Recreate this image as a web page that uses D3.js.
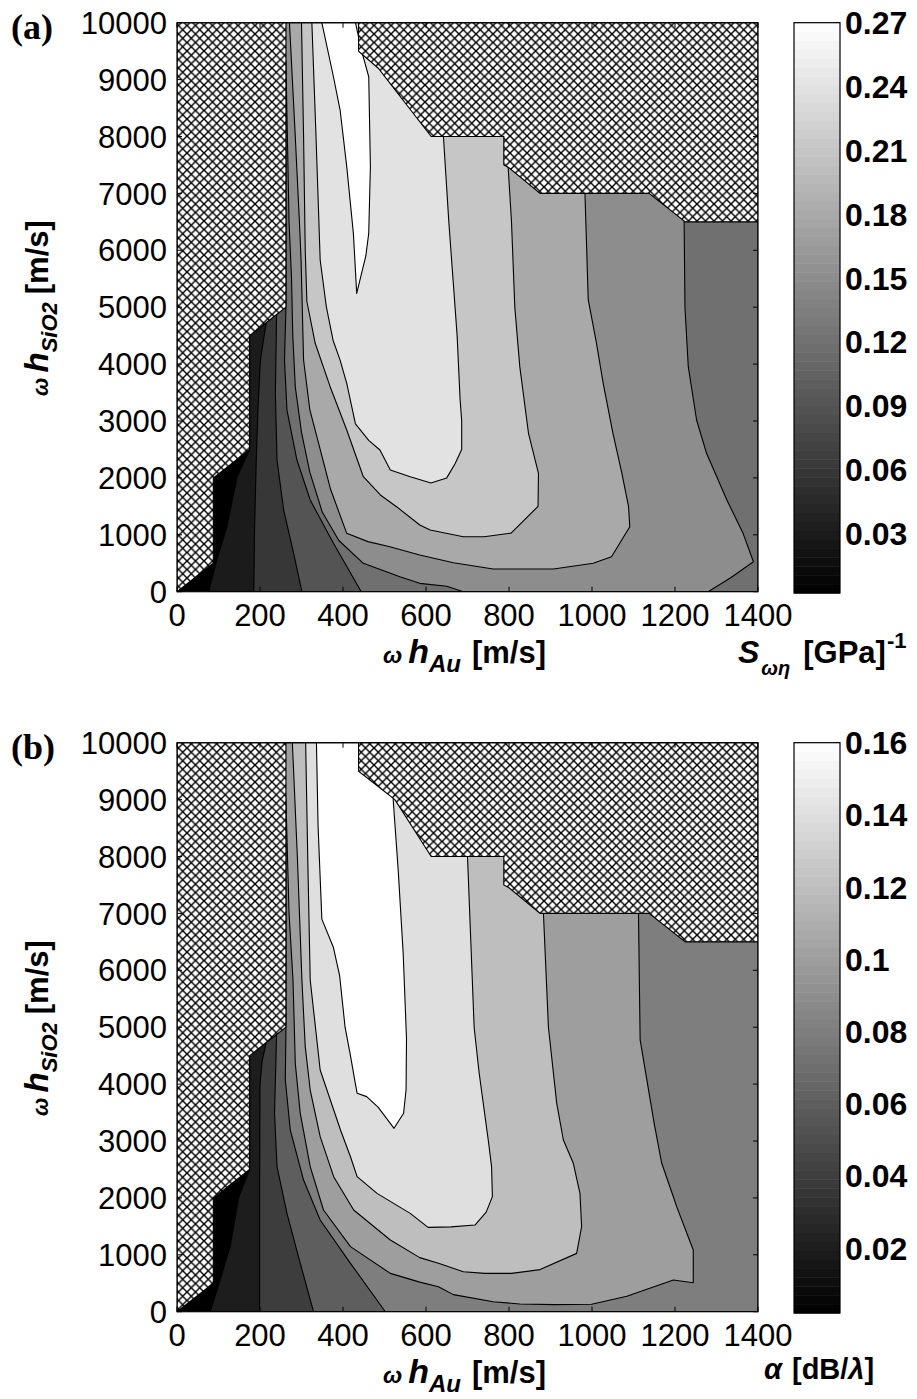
<!DOCTYPE html>
<html><head><meta charset="utf-8">
<script src="https://cdn.jsdelivr.net/npm/d3@7/dist/d3.min.js"></script>
<style>body{margin:0;background:#fff}svg{display:block}</style>
</head><body><svg id="chart" width="917" height="1399"></svg>
<script>
// ---------- axes / colorbar data ----------
const xTicks = [0,200,400,600,800,1000,1200,1400];
const yTicks = [0,1000,2000,3000,4000,5000,6000,7000,8000,9000,10000];
const cbDomainA = [0.002, 0.27];
const cbTicksA = [0.03,0.06,0.09,0.12,0.15,0.18,0.21,0.24,0.27];
const cbLabelsA = ["0.03","0.06","0.09","0.12","0.15","0.18","0.21","0.24","0.27"];
const cbDomainB = [0.002, 0.16];
const cbTicksB = [0.02,0.04,0.06,0.08,0.10,0.12,0.14,0.16];
const cbLabelsB = ["0.02","0.04","0.06","0.08","0.1","0.12","0.14","0.16"];

// ---------- panel (a) contour boundaries [hAu, hSiO2]; region of higher value lies right/inside ----------
const levelsA = [0.03,0.06,0.09,0.12,0.15,0.18,0.21,0.24,0.27];
const a003 = [[175,10000],[175,2500],[145,2020],[120,1140],[96,557],[76,0]];
const a006 = [[215,10000],[215,4730],[201,4072],[195,3193],[191,2314],[187,1142],[185,0]];
const a009 = [[240,10000],[240,4870],[237,3487],[241,2314],[257,1436],[281,674],[301,0]];
const a012 = [[262.5,10000],[262.5,5000],[259,4072],[265,3193],[289,2314],[321,1611],[377,850],[444,0]];
const a015 = [[250,10000],[262.5,9300],[266,8000],[270,6500],[276,5500],[279,4500],[285,3600],[300,2800],[320,2100],[350,1400],[390,900],[449,499],[537,264],[585,147],[650,95],[690,0],[1280,0],[1335,250],[1389,527],[1364,1026],[1325,1611],[1276,2432],[1252,3018],[1232,3955],[1224,5000],[1222,6500],[1225,10000]];
const a018 = [[271,10000],[285,8000],[295,6500],[299,5830],[305,4072],[320,3200],[345,2500],[370,1800],[409,1026],[460,880],[513,791],[585,645],[666,510],[762,399],[907,399],[1003,499],[1047,615],[1091,1142],[1088,1500],[1072,2080],[1050,2800],[1027,3662],[1010,4400],[991,5128],[983,7000],[983,10000]];
const a021 = [[300,10000],[305,8000],[309,6000],[313,5100],[333,4366],[369,3603],[409,2842],[449,2021],[490,1700],[529,1494],[585,1172],[610,1084],[690,967],[740,967],[805,1030],[870,1500],[871,2080],[847,2784],[826,3955],[814,5000],[806,6500],[798,7460],[798,10000]];
const a024 = [[325,10000],[335,8000],[345,5830],[360,5000],[376,4420],[393,4070],[409,3660],[430,2950],[462,2660],[489,2490],[514,2140],[562,2020],[612,1910],[650,2000],[670,2250],[686,2500],[686,3000],[682,3400],[675,4500],[665,5500],[655,6500],[642,8000],[642,10000]];
const a027 = [[349,10000],[377,9050],[393,8465],[409,7470],[425,6300],[433,5242],[455,5900],[462,6300],[466,7470],[462,9050],[445,9500],[430,10000]];
const maskLeftA = [[0,0],[87.5,500],[87.5,2000],[175,2500],[175,4500],[262.5,5000],[262.5,10000],[0,10000]];
const maskRightA = [[437.5,10000],[437.5,9500],[485,9200],[612.5,8000],[787.5,8000],[787.5,7500],[800,7450],[875,7000],[1137.5,7000],[1225,6500],[1400,6500],[1400,10000]];

// ---------- panel (b) ----------
const levelsB = [0.02,0.04,0.06,0.08,0.10,0.12,0.14,0.16];
const b002 = [[175,10000],[175,2500],[149,2021],[128,1143],[104,557],[80,0]];
const b004 = [[215,10000],[215,4730],[205,4400],[200,4000],[199,2000],[199,0]];
const b006 = [[240,10000],[240,4870],[235,3487],[241,2549],[265,1729],[297,850],[329,0]];
const b008 = [[262.5,10000],[262.5,5000],[261,4072],[273,3193],[305,2314],[345,1611],[418,850],[502,0]];
const b010 = [[250,10000],[262.5,9000],[270,7000],[279.5,5830],[285,4365],[297,3486],[321,2549],[353,1787],[418,1143],[514,674],[585,520],[630,440],[666,300],[762,176],[826,135],[907,125],[999,130],[1084,270],[1196,557],[1244,510],[1244,1084],[1204,1846],[1196,2021],[1168,2608],[1150,3300],[1116,4776],[1112,7000],[1115,10000]];
const b012 = [[278,10000],[290,8000],[301,5830],[309,4658],[321,3896],[345,3076],[377.5,2373],[425.7,1787],[514,1260],[585,950],[630,850],[690,703],[742,674],[806,674],[875,740],[963,1025],[975,1494],[971,2080],[955,2608],[931,3018],[915,3662],[895,5000],[883,7000],[883,10000]];
const b014 = [[310,10000],[315,8000],[321,5830],[345,4248],[394,3193],[418,2724],[434,2373],[482,2080],[562,1728],[605,1482],[660,1490],[718,1523],[745,1750],[760,2022],[758,2550],[750,3018],[738,3662],[728,4200],[716,5000],[708,6500],[700,8000],[700,10000]];
const b016 = [[336,10000],[340,8524],[349,6900],[377,6400],[392,5900],[405,5000],[417,4540],[430,4000],[434,3840],[457,3780],[485,3590],[523,3223],[546,3487],[552,3900],[553,4800],[545,6300],[533,7760],[521,8990],[525,10000]];
const maskLeftB = [[0,0],[87.5,500],[87.5,2000],[175,2500],[175,4500],[262.5,5000],[262.5,10000],[0,10000]];
const maskRightB = [[437.5,10000],[437.5,9500],[525,9000],[612.5,8000],[787.5,8000],[787.5,7500],[800,7450],[875,7000],[1137.5,7000],[1225,6500],[1400,6500],[1400,10000]];

// ---------- drawing ----------
const svg = d3.select("#chart");
const SANS = "'Liberation Sans', Arial, sans-serif";
const defs = svg.append("defs");
const P = 8.5;
const pat = defs.append("pattern").attr("id","hatch").attr("patternUnits","userSpaceOnUse")
  .attr("width",P).attr("height",P);
pat.append("rect").attr("width",P).attr("height",P).attr("fill","#fff");
pat.append("path").attr("d",`M-2,-2L${P+2},${P+2}M${P+2},-2L-2,${P+2}`)
  .attr("stroke","#000").attr("stroke-width",1.45);

const X_DOM = [0,1400], Y_DOM = [0,10000];

function drawPanel(off, cfg) {
  const top = 22.7 + off, bottom = 591.7 + off, left = 177, right = 758;
  const x = d3.scaleLinear().domain(X_DOM).range([left, right]);
  const y = d3.scaleLinear().domain(Y_DOM).range([bottom, top]);
  const col = d3.scaleLinear().domain(cfg.cbDomain).range(["#000","#fff"]).clamp(true);
  const g = svg.append("g");
  const clipId = "clip" + cfg.id;
  defs.append("clipPath").attr("id", clipId).append("rect")
    .attr("x", left).attr("y", top).attr("width", right-left).attr("height", bottom-top);
  const pg = g.append("g").attr("clip-path", `url(#${clipId})`);
  const line = d3.line().x(d => x(d[0])).y(d => y(d[1]));
  // base (lowest) region
  pg.append("rect").attr("x", left).attr("y", top).attr("width", right-left).attr("height", bottom-top)
    .attr("fill", col(cfg.cbDomain[0]));
  cfg.contours.forEach(([lev, pts]) => {
    const p = pts.slice();
    const last = p[p.length-1];
    if (last[1] === Y_DOM[0]) { p.push([X_DOM[1], Y_DOM[0]], [X_DOM[1], Y_DOM[1]]); }
    pg.append("path").attr("d", line(p) + "Z")
      .attr("fill", col(lev)).attr("stroke", "#000").attr("stroke-width", 1.1)
      .attr("stroke-linejoin", "round");
  });
  cfg.masks.forEach(m => {
    pg.append("path").attr("d", line(m) + "Z").attr("fill", "url(#hatch)")
      .attr("stroke", "#000").attr("stroke-width", 1.1);
  });
  // frame
  g.append("rect").attr("x", left).attr("y", top).attr("width", right-left).attr("height", bottom-top)
    .attr("fill", "none").attr("stroke", "#000").attr("stroke-width", 1.2);
  const tk = g.append("g").attr("stroke", "#000").attr("stroke-width", 1);
  xTicks.forEach(v => {
    tk.append("line").attr("x1", x(v)).attr("x2", x(v)).attr("y1", bottom).attr("y2", bottom-5);
    tk.append("line").attr("x1", x(v)).attr("x2", x(v)).attr("y1", top).attr("y2", top+5);
  });
  yTicks.forEach(v => {
    tk.append("line").attr("x1", left).attr("x2", left+5).attr("y1", y(v)).attr("y2", y(v));
    tk.append("line").attr("x1", right).attr("x2", right-5).attr("y1", y(v)).attr("y2", y(v));
  });
  const tl = g.append("g").attr("font-family", SANS).attr("font-size", 31).attr("fill", "#000");
  xTicks.forEach(v => tl.append("text").attr("x", x(v)).attr("y", bottom + 34)
    .attr("text-anchor", "middle").text(v));
  yTicks.forEach(v => tl.append("text").attr("x", left - 10).attr("y", y(v))
    .attr("dy", "0.36em").attr("text-anchor", "end").text(v));

  // colorbar
  const cl = 794, cr = 840, ct = 22.7 + off, cb = 593 + off;
  const cy = d3.scaleLinear().domain(cfg.cbDomain).range([cb, ct]);
  const N = 64;
  const d0 = cfg.cbDomain[0], d1 = cfg.cbDomain[1];
  const steps = d3.range(N).map(i => [d0 + (d1-d0)*i/N, d0 + (d1-d0)*(i+1)/N]);
  g.append("g").selectAll("rect").data(steps).join("rect")
    .attr("x", cl).attr("width", cr-cl)
    .attr("y", d => cy(d[1])).attr("height", d => cy(d[0]) - cy(d[1]) + 0.5)
    .attr("fill", d => col((d[0]+d[1])/2));
  g.append("rect").attr("x", cl).attr("y", ct).attr("width", cr-cl).attr("height", cb-ct)
    .attr("fill", "none").attr("stroke", "#000").attr("stroke-width", 1.2);
  cfg.cbTicks.forEach((v, i) => {
    tk.append("line").attr("x1", cl).attr("x2", cl+6).attr("y1", cy(v)).attr("y2", cy(v));
    tk.append("line").attr("x1", cr).attr("x2", cr-6).attr("y1", cy(v)).attr("y2", cy(v));
    g.append("text").attr("x", cr + 5).attr("y", cy(v)).attr("dy", "0.36em")
      .attr("font-family", SANS).attr("font-weight", "bold").attr("font-size", 32)
      .text(cfg.cbLabels[i]);
  });

  // x label
  const xl = g.append("text").attr("x", 383).attr("y", 663 + off)
    .attr("font-family", SANS).attr("font-weight", "bold");
  xl.append("tspan").attr("font-style", "italic").attr("font-size", 23).text("ω");
  xl.append("tspan").attr("font-style", "italic").attr("font-size", 34).attr("dx", 6).text("h");
  xl.append("tspan").attr("font-style", "italic").attr("font-size", 24).attr("dy", 9).text("Au");
  xl.append("tspan").attr("font-size", 31).attr("dy", -9).attr("dx", 11).text("[m/s]");

  // y label
  const yl = g.append("text").attr("transform", `translate(48,${308 + off}) rotate(-90)`)
    .attr("text-anchor", "middle").attr("font-family", SANS).attr("font-weight", "bold");
  yl.append("tspan").attr("font-style", "italic").attr("font-size", 22).text("ω");
  yl.append("tspan").attr("font-style", "italic").attr("font-size", 33).attr("dx", 5).text("h");
  yl.append("tspan").attr("font-style", "italic").attr("font-size", 22).attr("dy", 9).text("SiO2");
  yl.append("tspan").attr("font-size", 31).attr("dy", -9).attr("dx", 8).text("[m/s]");

  // panel letter
  g.append("text").attr("x", 11).attr("y", 39 + off).attr("font-family", "'Liberation Serif', 'Times New Roman', serif")
    .attr("font-weight", "bold").attr("font-size", 36).text(cfg.letter);

  cfg.cbLabel(g, off);
}

drawPanel(0, {
  id: "A", letter: "(a)", cbDomain: cbDomainA, cbTicks: cbTicksA, cbLabels: cbLabelsA,
  contours: levelsA.map((l, i) => [l, [a003,a006,a009,a012,a015,a018,a021,a024,a027][i]]),
  masks: [maskLeftA, maskRightA],
  cbLabel: (g, off) => {
    const t = g.append("text").attr("x", 738).attr("y", 663 + off)
      .attr("font-family", SANS).attr("font-weight", "bold");
    t.append("tspan").attr("font-style", "italic").attr("font-size", 32).text("S");
    t.append("tspan").attr("font-style", "italic").attr("font-size", 20).attr("dy", 12).attr("dx", 2).text("ωη");
    t.append("tspan").attr("font-size", 31).attr("dy", -12).attr("dx", 13).text("[GPa]");
    t.append("tspan").attr("font-size", 22).attr("dy", -15).attr("dx", 1).text("-1");
  }
});
drawPanel(720, {
  id: "B", letter: "(b)", cbDomain: cbDomainB, cbTicks: cbTicksB, cbLabels: cbLabelsB,
  contours: levelsB.map((l, i) => [l, [b002,b004,b006,b008,b010,b012,b014,b016][i]]),
  masks: [maskLeftB, maskRightB],
  cbLabel: (g, off) => {
    const t = g.append("text").attr("x", 764).attr("y", 659 + off)
      .attr("font-family", SANS).attr("font-weight", "bold").attr("font-size", 29);
    t.append("tspan").attr("font-style", "italic").text("α");
    t.append("tspan").attr("dx", 10).text("[dB/");
    t.append("tspan").attr("font-style", "italic").text("λ");
    t.append("tspan").text("]");
  }
});
</script></body></html>
